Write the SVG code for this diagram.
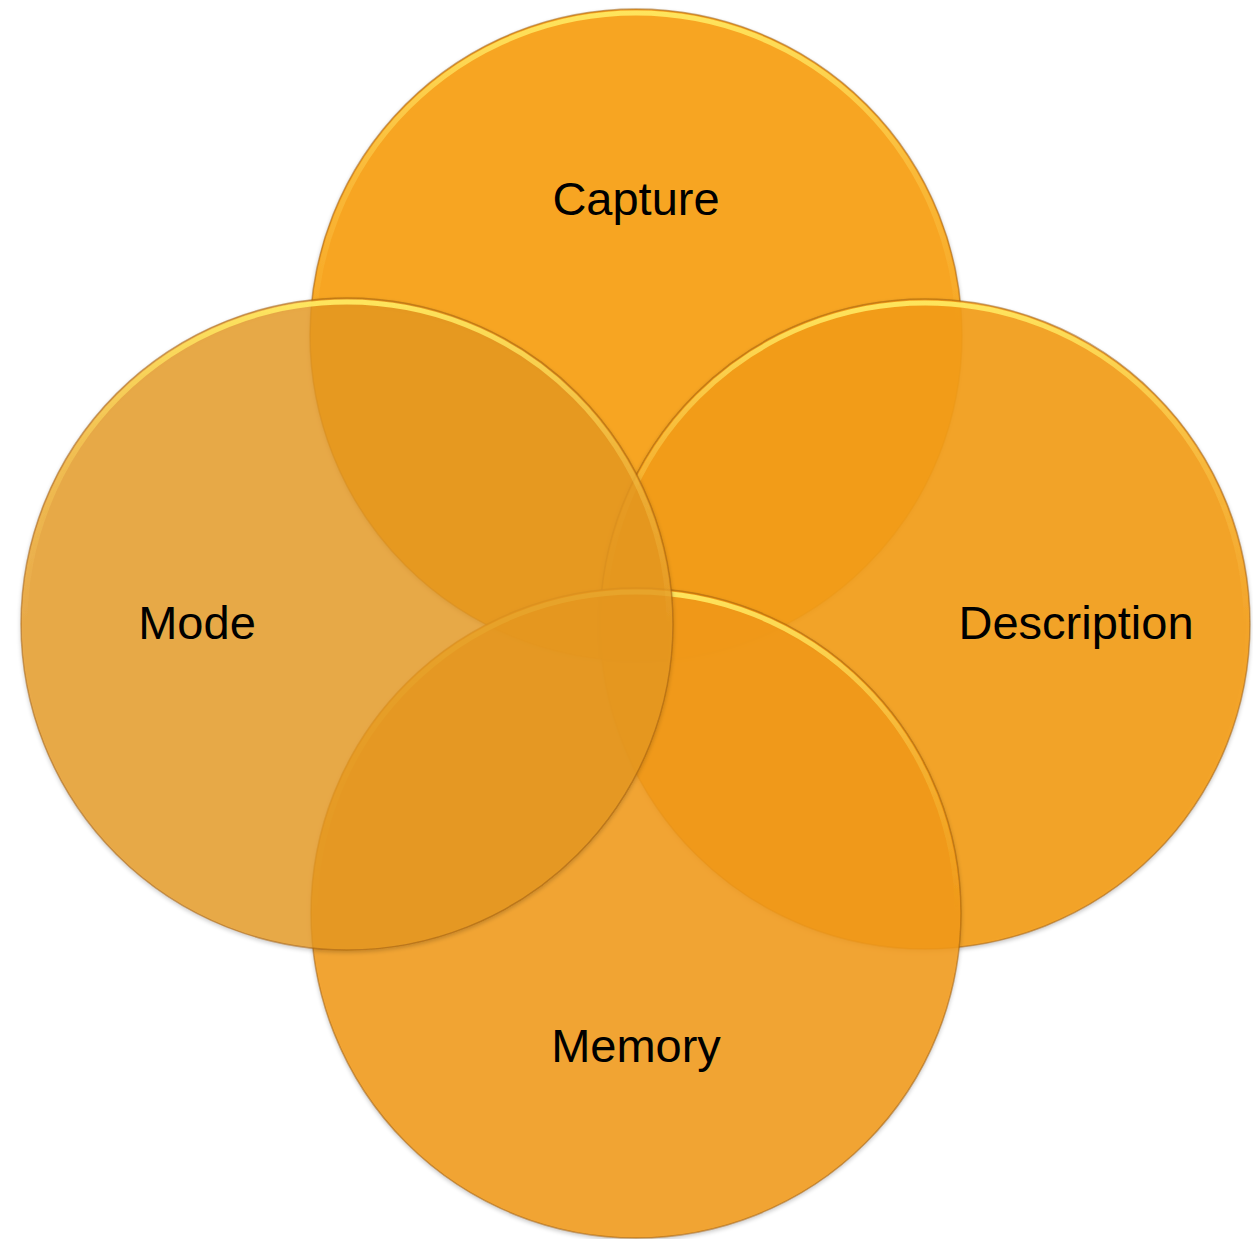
<svg xmlns="http://www.w3.org/2000/svg" width="1253" height="1239" viewBox="0 0 1253 1239">
<style>
.lbl{font-family:"Liberation Sans",Arial,sans-serif;font-size:47px;fill:#000;text-anchor:middle}
.edge{fill:none;stroke:#9a5a10;stroke-opacity:0.5;stroke-width:1.5}
.hl{fill:none;stroke:url(#hlg);stroke-width:5}
</style>
<defs>
<linearGradient id="hlg" x1="0" y1="0" x2="0" y2="1">
<stop offset="0" stop-color="#ffe860" stop-opacity="0.95"/>
<stop offset="0.25" stop-color="#ffe060" stop-opacity="0.35"/>
<stop offset="0.5" stop-color="#ffe060" stop-opacity="0"/>
</linearGradient>
<filter id="sh" x="-10%" y="-10%" width="120%" height="120%">
<feGaussianBlur in="SourceAlpha" stdDeviation="2"/>
<feOffset dy="2"/>
<feComponentTransfer><feFuncA type="linear" slope="0.25"/></feComponentTransfer>
<feMerge><feMergeNode/><feMergeNode in="SourceGraphic"/></feMerge>
</filter>
</defs>
<g id="capture" filter="url(#sh)">
<circle cx="636" cy="335" r="326" fill="#F7A523"/>
<circle cx="636" cy="335" r="322" class="hl"/>
<circle cx="636" cy="335" r="326" class="edge"/>
</g>
<g id="description" filter="url(#sh)">
<circle cx="925" cy="624" r="325" fill="#F49D18" fill-opacity="0.9"/>
<circle cx="925" cy="624" r="321" class="hl"/>
<circle cx="925" cy="624" r="325" class="edge"/>
</g>
<g id="memory" filter="url(#sh)">
<circle cx="636" cy="913" r="325" fill="#F39A16" fill-opacity="0.85"/>
<circle cx="636" cy="913" r="321" class="hl"/>
<circle cx="636" cy="913" r="325" class="edge"/>
</g>
<g id="mode" filter="url(#sh)">
<circle cx="347" cy="624" r="326" fill="#E89A22" fill-opacity="0.78"/>
<circle cx="347" cy="624" r="322" class="hl"/>
<circle cx="347" cy="624" r="326" class="edge"/>
</g>
<g id="labels">
<text class="lbl" x="636" y="215">Capture</text>
<text class="lbl" x="197" y="639">Mode</text>
<text class="lbl" x="1076" y="639">Description</text>
<text class="lbl" x="636" y="1062">Memory</text>
</g>
<g id="connectors"/>
</svg>
